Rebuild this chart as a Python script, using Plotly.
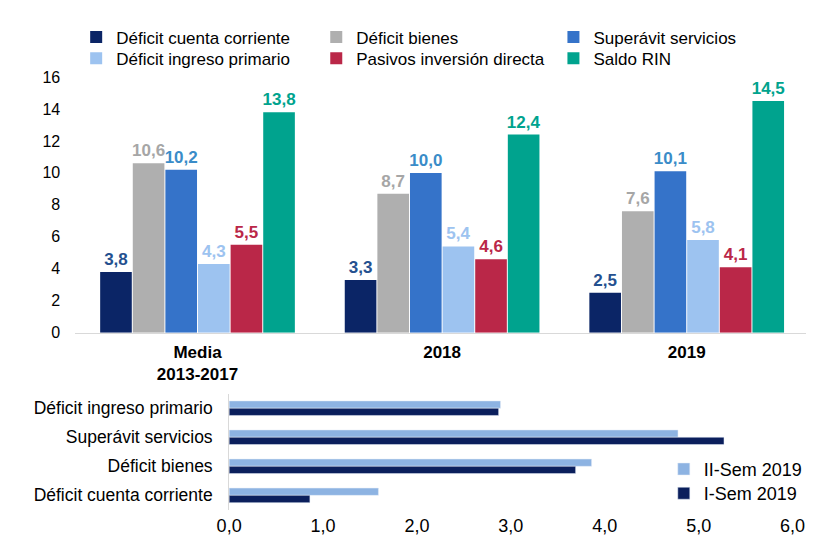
import plotly.graph_objects as go

# ---------------- data ----------------
periods = ["Media<br>2013-2017", "2018", "2019"]
series_names = ["Déficit cuenta corriente", "Déficit bienes", "Superávit servicios",
                "Déficit ingreso primario", "Pasivos inversión directa", "Saldo RIN"]
deficit_cuenta = [3.8, 3.3, 2.5]
deficit_bienes = [10.6, 8.7, 7.6]
superavit_servicios = [10.2, 10.0, 10.1]
deficit_ingreso = [4.3, 5.4, 5.8]
pasivos_inversion = [5.5, 4.6, 4.1]
saldo_rin = [13.8, 12.4, 14.5]
y_ticks = [0, 2, 4, 6, 8, 10, 12, 14, 16]

sem_categories = ["Déficit cuenta corriente", "Déficit bienes",
                  "Superávit servicios", "Déficit ingreso primario"]
ii_sem_2019 = [1.59, 3.86, 4.78, 2.89]
i_sem_2019 = [0.86, 3.69, 5.27, 2.87]
x2_ticks = [0, 1, 2, 3, 4, 5, 6]
x2_ticktext = ["0,0", "1,0", "2,0", "3,0", "4,0", "5,0", "6,0"]

# ---------------- styles ----------------
FONT = "Liberation Sans, Arial, sans-serif"
bar_colors = ["#0B2566", "#AFAFAF", "#3573C9", "#9DC3F0", "#BA2748", "#00A38E"]
label_colors = ["#24508F", "#A6A6A6", "#3A8CC8", "#9DC3F0", "#BA2748", "#00A38E"]
all_series = [deficit_cuenta, deficit_bienes, superavit_servicios,
              deficit_ingreso, pasivos_inversion, saldo_rin]

W, H = 814, 538

def fmt(v):
    return f"{v:.1f}".replace(".", ",")

def px_x(p):
    return p / W

def px_y(p):
    return 1 - p / H

# one legend per entry so that each legend item sits where the reference has it
# (left x of legend box in px, top y of legend box in px)
top_legend_pos = [(57, 3.5), (305, 3.5), (550, 3.5),
                  (57, 25.5), (305, 25.5), (550, 25.5)]

fig = go.Figure()

legend_layout = {}
for i, (name, vals, col, lcol) in enumerate(zip(series_names, all_series, bar_colors, label_colors)):
    lg = "legend" if i == 0 else f"legend{i + 1}"
    fig.add_trace(go.Bar(
        x=periods, y=vals, name=name,
        marker=dict(color=col, line=dict(width=0)),
        text=[fmt(v) for v in vals], textposition="outside",
        textfont=dict(family=FONT, size=17, color=lcol, weight="bold"),
        constraintext="none", cliponaxis=False,
        xaxis="x", yaxis="y", legend=lg,
        hoverinfo="skip",
    ))
    lx, ly = top_legend_pos[i]
    legend_layout[lg] = dict(x=px_x(lx), y=px_y(ly), orientation="v",
                             bgcolor="rgba(0,0,0,0)", borderwidth=0,
                             font=dict(family=FONT, size=17, color="#000000"),
                             xanchor="left", yanchor="top", itemclick=False)

fig.add_trace(go.Bar(
    y=sem_categories, x=ii_sem_2019, orientation="h", name="II-Sem 2019",
    marker=dict(color="#8DB3E2"), width=0.25, offset=0,
    xaxis="x2", yaxis="y2", legend="legend7", hoverinfo="skip",
))
fig.add_trace(go.Bar(
    y=sem_categories, x=i_sem_2019, orientation="h", name="I-Sem 2019",
    marker=dict(color="#0B1F5C"), width=0.25, offset=-0.25,
    xaxis="x2", yaxis="y2", legend="legend8", hoverinfo="skip",
))
for lg, ly in [("legend7", 449), ("legend8", 474)]:
    legend_layout[lg] = dict(x=px_x(664), y=px_y(ly), orientation="v",
                             bgcolor="rgba(0,0,0,0)", borderwidth=0,
                             font=dict(family=FONT, size=18, color="#000000"),
                             xanchor="left", yanchor="top", itemclick=False)

fig.update_layout(
    width=W, height=H,
    margin=dict(l=0, r=0, t=0, b=0),
    paper_bgcolor="white", plot_bgcolor="white",
    font=dict(family=FONT, size=16, color="#000000"),
    barmode="group", bargap=0.2, bargroupgap=0.03,
    showlegend=True,
    xaxis=dict(domain=[px_x(56), 1.0], anchor="y", type="category",
               range=[-0.5, 2.5], showline=True, linecolor="#D9D9D9", linewidth=1,
               showgrid=False, ticks="", ticklabelstandoff=4,
               tickfont=dict(family=FONT, size=17, color="#000000", weight="bold")),
    yaxis=dict(domain=[px_y(327), px_y(63)], anchor="x", range=[0, 16],
               tickvals=y_ticks, showgrid=False, zeroline=False, showline=False,
               ticks="", ticklabelstandoff=14,
               tickfont=dict(family=FONT, size=16, color="#000000")),
    xaxis2=dict(domain=[px_x(215), px_x(797)], anchor="y2", range=[0, 6],
                tickvals=x2_ticks, ticktext=x2_ticktext, showgrid=False,
                zeroline=False, showline=False, ticks="", ticklabelstandoff=3,
                tickfont=dict(family=FONT, size=18, color="#000000")),
    yaxis2=dict(domain=[px_y(510), px_y(390)], anchor="x2", type="category",
                range=[-0.5, 3.5], showline=True, linecolor="#D9D9D9", linewidth=1,
                showgrid=False, ticks="", ticklabelstandoff=12,
                tickfont=dict(family=FONT, size=17.5, color="#000000")),
    **legend_layout,
)

fig.write_html("out.html")
